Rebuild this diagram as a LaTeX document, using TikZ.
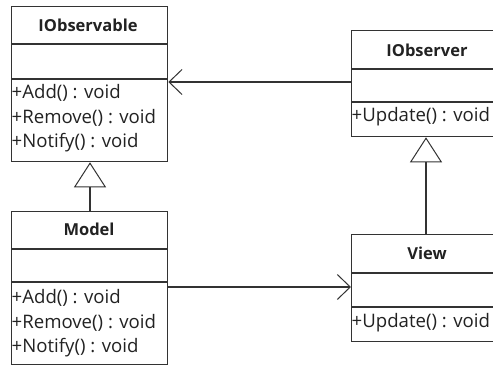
\documentclass[tikz,border=0pt]{standalone}
\usepackage{fontspec}
\setmainfont{Open Sans}
\usetikzlibrary{arrows.meta}
\definecolor{ln}{HTML}{333333}
\definecolor{tx}{HTML}{222222}
\begin{document}
\begin{tikzpicture}[x=1pt,y=-1pt,
  box/.style={draw=ln,line width=1.3pt,rectangle,inner sep=0pt,anchor=north west},
  divider/.style={draw=ln,line width=1.3pt},
  title/.style={font=\fontsize{16.5}{18}\selectfont\bfseries,text=tx,inner sep=0pt},
  member/.style={font=\fontsize{18.6}{20}\selectfont,text=tx,inner sep=0pt,anchor=west},
  conn/.style={draw=ln,line width=1.3pt},
  assoc/.style={conn,-{Straight Barb[length=13pt,width=25pt,line width=1pt]}},
  inherit/.style={conn,-{Triangle[open,fill=white,length=25pt,width=32pt,line width=1pt]}}]
\useasboundingbox[fill=white] (0,0) rectangle (493,367);
\begin{scope}
\clip (0,0) rectangle (493,367);
% IObservable
\node[box,minimum width=156pt,minimum height=155pt] (obs) at (11,6) {};
\draw[divider] (11,44) -- (167,44);
\draw[divider] (11,79) -- (167,79);
\node[title] (obst) at (88,25) {IObservable};
\node[member] (obsm1) at (11.5,93) {+Add() : void};
\node[member] (obsm2) at (11.5,118) {+Remove() : void};
\node[member] (obsm3) at (11.5,143) {+Notify() : void};
% Model
\node[box,minimum width=156pt,minimum height=153pt] (mod) at (11,211) {};
\draw[divider] (11,249) -- (167,249);
\draw[divider] (11,282) -- (167,282);
\node[title] (modt) at (89,229) {Model};
\node[member] (modm1) at (11.5,298) {+Add() : void};
\node[member] (modm2) at (11.5,323) {+Remove() : void};
\node[member] (modm3) at (11.5,348) {+Notify() : void};
% IObserver
\node[box,minimum width=150pt,minimum height=106pt] (iob) at (351,30) {};
\draw[divider] (351,69) -- (501,69);
\draw[divider] (351,102) -- (501,102);
\node[title] (iobt) at (427,50) {IObserver};
\node[member] (iobm1) at (351.5,117) {+Update() : void};
% View
\node[box,minimum width=150pt,minimum height=107pt] (view) at (351,234) {};
\draw[divider] (351,273) -- (501,273);
\draw[divider] (351,307) -- (501,307);
\node[title] (viewt) at (427,253) {View};
\node[member] (viewm1) at (351.5,323) {+Update() : void};
\end{scope}
% connectors
\draw[assoc] (iob.west |- 0,82) -- (obs.east |- 0,82);
\draw[assoc] (mod.east |- 0,287) -- (view.west |- 0,287);
\draw[inherit] (mod.north -| 90,0) -- (obs.south -| 90,0);
\draw[inherit] (view.north -| 426,0) -- (iob.south -| 426,0);
\end{tikzpicture}
\end{document}
